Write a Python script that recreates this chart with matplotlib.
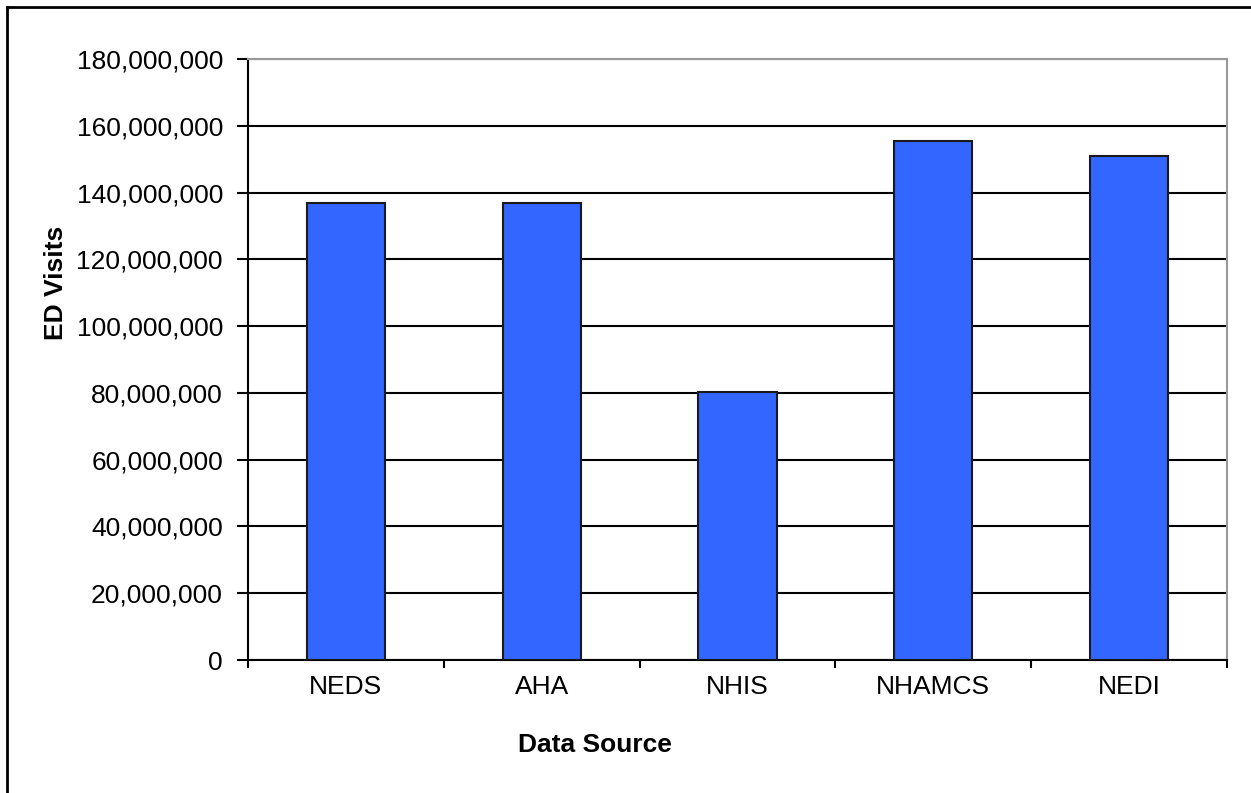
import matplotlib.pyplot as plt
import numpy as np
from matplotlib.ticker import FuncFormatter, FixedLocator

plt.rcParams['font.family'] = ['Liberation Sans', 'DejaVu Sans']

sources = ['NEDS', 'AHA', 'NHIS', 'NHAMCS', 'NEDI']
visits = [137000000, 137000000, 80300000, 155500000, 150800000]

fig = plt.figure(figsize=(12.51, 7.93), dpi=100)
ax = fig.add_axes([248 / 1251, 133 / 793, 979 / 1251, 601 / 793])

x = np.arange(len(sources))
ax.bar(x, visits, width=0.4, color='#3366FF', edgecolor='#1a1a1a', linewidth=1.5, zorder=3)

ax.set_xlim(-0.5, len(sources) - 0.5)
ax.set_ylim(0, 180000000)
ax.set_yticks(np.arange(0, 180000001, 20000000))
ax.yaxis.set_major_formatter(FuncFormatter(lambda v, p: f'{int(v):,}'))
ax.grid(axis='y', color='black', linewidth=1.5, zorder=0)

# category boundaries as major ticks, labels on minor ticks
ax.xaxis.set_major_locator(FixedLocator(np.arange(-0.5, len(sources), 1.0)))
ax.xaxis.set_major_formatter(FuncFormatter(lambda v, p: ''))
ax.xaxis.set_minor_locator(FixedLocator(x))
ax.set_xticklabels(sources, minor=True)
ax.tick_params(axis='x', which='major', length=6, width=1.5, direction='out')
ax.tick_params(axis='x', which='minor', length=0, pad=11, labelsize=19)
ax.tick_params(axis='y', length=8, width=1.5, direction='out', pad=10, labelsize=19)

for s in ['left', 'bottom']:
    ax.spines[s].set_linewidth(1.5)
    ax.spines[s].set_color('black')
for s in ['top', 'right']:
    ax.spines[s].set_linewidth(1.5)
    ax.spines[s].set_color('#999999')

# axis titles sit off-centre in the original
ax.set_xlabel('Data Source', fontsize=19, fontweight='bold', labelpad=24, x=0.354)
ax.set_ylabel('ED Visits', fontsize=19, fontweight='bold', labelpad=6, y=0.627)

# outer chart frame (left and top edges)
fig.add_artist(plt.Line2D([7 / 1251, 7 / 1251], [0, 1 - 7 / 793], transform=fig.transFigure, color='black', linewidth=2))
fig.add_artist(plt.Line2D([7 / 1251, 1], [1 - 7 / 793, 1 - 7 / 793], transform=fig.transFigure, color='black', linewidth=2))

fig.savefig('out.png', dpi=100)
